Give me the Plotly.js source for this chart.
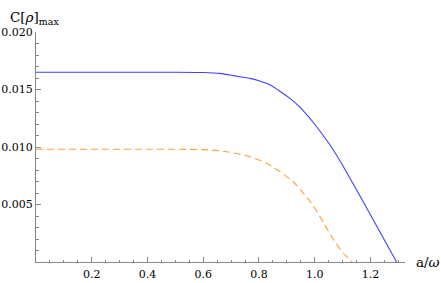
<!DOCTYPE html>
<html>
<head>
<meta charset="utf-8">
<script src="https://cdn.plot.ly/plotly-3.0.1.min.js"></script>
<style>html,body{margin:0;padding:0;background:#fff;}#chart{width:441px;height:283px;}</style>
</head>
<body>
<div id="chart"></div>
<script>
// Data
const blueA = [0, 0.2, 0.4, 0.5, 0.6, 0.66, 0.696, 0.73, 0.768, 0.80, 0.840, 0.875, 0.911, 0.945, 0.983, 1.0, 1.02, 1.055, 1.1, 1.147, 1.2, 1.25, 1.294];
const blueC = [0.01650, 0.01650, 0.01650, 0.01650, 0.01648, 0.01640, 0.01626, 0.01611, 0.01597, 0.01576, 0.01539, 0.01485, 0.01423, 0.01352, 0.01249, 0.01198, 0.01135, 0.01017, 0.00842, 0.00641, 0.00410, 0.00192, 0.0];

const orangeA = [0, 0.2, 0.4, 0.52, 0.6, 0.66, 0.696, 0.73, 0.768, 0.828, 0.876, 0.923, 0.953, 0.989, 1.031, 1.067, 1.103, 1.129, 1.1325];
const orangeC = [0.00980, 0.00980, 0.00980, 0.00980, 0.00977, 0.00967, 0.00954, 0.00938, 0.00916, 0.00858, 0.00785, 0.00698, 0.00618, 0.00508, 0.00345, 0.00195, 0.00076, 0.00015, 0.0];

const xTicks = [0.2, 0.4, 0.6, 0.8, 1.0, 1.2];
const xTickText = ["0.2", "0.4", "0.6", "0.8", "1.0", "1.2"];
const yTicks = [0.005, 0.010, 0.015, 0.020];
const yTickText = ["0.005", "0.010", "0.015", "0.020"];

const serif = "DejaVu Serif, serif";

const traces = [
  {x: blueA, y: blueC, mode: 'lines', line: {color: '#4040ff', width: 1.1, shape: 'spline', smoothing: 0.6}, hoverinfo: 'skip'},
  {x: orangeA, y: orangeC, mode: 'lines', line: {color: '#ffa040', width: 1.1, dash: '7px,4px', shape: 'spline', smoothing: 0.6}, hoverinfo: 'skip'}
];

const axisCommon = {
  showgrid: false, zeroline: false, showline: true, linecolor: '#888888', linewidth: 1,
  ticks: 'inside', ticklen: 5, tickcolor: '#888888', tickwidth: 1,
  tickfont: {family: serif, size: 11, color: '#000'},
  fixedrange: true
};

const layout = {
  width: 441, height: 283,
  margin: {l: 36, r: 36, t: 32, b: 21, pad: 0},
  paper_bgcolor: '#fff', plot_bgcolor: '#fff',
  font: {family: serif, size: 11},
  showlegend: false,
  xaxis: Object.assign({}, axisCommon, {
    range: [0, 1.324], tickmode: 'array', tickvals: xTicks, ticktext: xTickText,
    ticklabelstandoff: 2,
    minor: {ticks: 'inside', ticklen: 2.5, tickcolor: '#888888', dtick: 0.05, tick0: 0, showgrid: false}
  }),
  yaxis: Object.assign({}, axisCommon, {
    range: [0, 0.020], tickmode: 'array', tickvals: yTicks, ticktext: yTickText,
    minor: {ticks: 'inside', ticklen: 2.5, tickcolor: '#888888', dtick: 0.001, tick0: 0, showgrid: false}
  }),
  annotations: [
    {xref: 'paper', yref: 'paper', x: 0, y: 1, xanchor: 'left', yanchor: 'bottom', xshift: -28, yshift: 3,
     text: 'C[<i>ρ</i>]<sub>max</sub>', showarrow: false,
     font: {family: serif, size: 13.5, color: '#000'}},
    {xref: 'paper', yref: 'paper', x: 1, y: 0, xanchor: 'left', yanchor: 'middle', xshift: 9,
     text: 'a/<i>ω</i>', showarrow: false,
     font: {family: serif, size: 13.5, color: '#000'}}
  ]
};

Plotly.newPlot('chart', traces, layout, {staticPlot: true, displayModeBar: false});
</script>
</body>
</html>
